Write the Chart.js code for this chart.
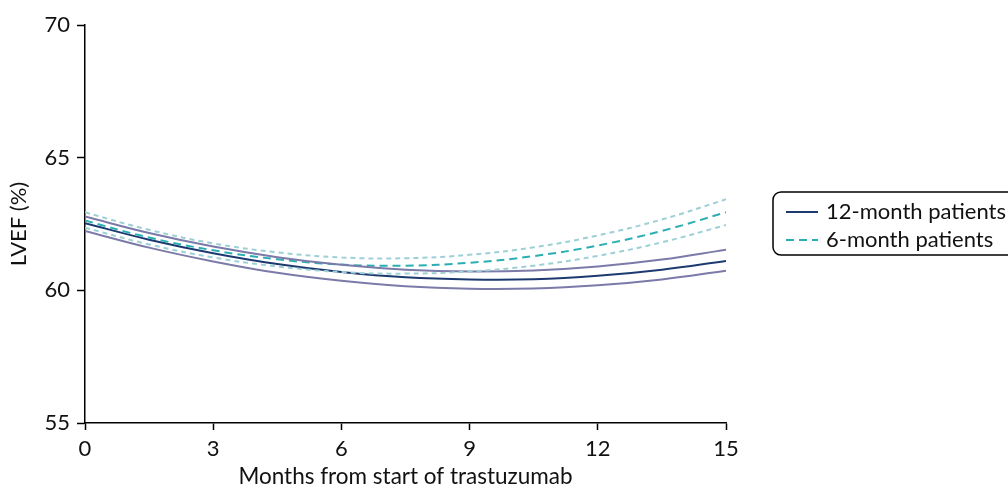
<!DOCTYPE html>
<html>
<head>
<meta charset="utf-8">
<script src="https://cdn.jsdelivr.net/npm/chart.js@4"></script>
<style>
  html, body { margin: 0; padding: 0; background: #fff; }
  #wrap { width: 1008px; height: 488px; }
</style>
</head>
<body>
<div id="wrap"><canvas id="myChart"></canvas></div>
<script>
// months from start of trastuzumab
const months = [0, 1.5, 3, 4.5, 6, 7.5, 9, 10.5, 12, 13.5, 15];

// 12-month patients (fit + 95% band)
const lvef12 = [62.53, 61.91, 61.40, 60.99, 60.69, 60.49, 60.41, 60.42, 60.55, 60.78, 61.11];
const lvef12Upper = [62.78, 62.16, 61.65, 61.25, 60.96, 60.78, 60.71, 60.75, 60.90, 61.16, 61.53];
const lvef12Lower = [62.24, 61.61, 61.09, 60.66, 60.36, 60.15, 60.06, 60.07, 60.19, 60.41, 60.74];

// 6-month patients (fit + 95% band)
const lvef6 = [62.63, 61.99, 61.51, 61.17, 60.97, 60.93, 61.04, 61.29, 61.69, 62.24, 62.94];
const lvef6Upper = [62.94, 62.28, 61.77, 61.43, 61.24, 61.21, 61.34, 61.62, 62.07, 62.67, 63.43];
const lvef6Lower = [62.36, 61.73, 61.24, 60.90, 60.69, 60.63, 60.71, 60.93, 61.30, 61.81, 62.46];

const xTicks = [0, 3, 6, 9, 12, 15];
const yTicks = [55, 60, 65, 70];
const legendOrder = ['12-month patients', '6-month patients'];

const NAVY = '#1d3a70';
const GREY = '#7b7aa8';
const TEAL = '#2aaeb2';
const LIGHT_TEAL = '#9dd0d6';

const pts = arr => arr.map((v, i) => ({ x: months[i], y: v }));

function line(label, arr, color, dash) {
    return {
        label: label,
        data: pts(arr),
        borderColor: color,
        borderWidth: 2,
        borderDash: dash,
        pointRadius: 0,
        tension: 0.4,
        fill: false
    };
}

// legend with a rounded box, like the original figure
const boxLegend = {
    id: 'boxLegend',
    afterDraw(chart) {
        const c = chart.ctx;
        const items = legendOrder.map(l => chart.data.datasets.find(d => d.label === l));
        const x = 773, y = 192, w = 260, h = 63;
        c.save();
        c.strokeStyle = '#000';
        c.lineWidth = 1.5;
        c.beginPath();
        c.roundRect(x, y, w, h, 8);
        c.stroke();
        c.font = '22px Lato';
        c.textBaseline = 'middle';
        items.forEach((d, i) => {
            const ly = y + 20 + i * 28;
            c.strokeStyle = d.borderColor;
            c.lineWidth = 2;
            c.setLineDash(d.borderDash || []);
            c.beginPath();
            c.moveTo(x + 13, ly);
            c.lineTo(x + 45, ly);
            c.stroke();
            c.setLineDash([]);
            c.fillStyle = '#111';
            c.fillText(d.label, x + 53, ly);
        });
        c.restore();
    }
};

Chart.defaults.font.family = "Lato, 'Open Sans', sans-serif";
Chart.defaults.font.size = 22;
Chart.defaults.color = '#111';

const ctx = document.getElementById('myChart');
new Chart(ctx, {
    type: 'line',
    data: {
        datasets: [
            line('95% CI upper (6)', lvef6Upper, LIGHT_TEAL, [5, 4]),
            line('95% CI lower (6)', lvef6Lower, LIGHT_TEAL, [5, 4]),
            line('95% CI upper (12)', lvef12Upper, GREY, []),
            line('95% CI lower (12)', lvef12Lower, GREY, []),
            line('6-month patients', lvef6, TEAL, [8, 5]),
            line('12-month patients', lvef12, NAVY, [])
        ]
    },
    options: {
        responsive: true,
        maintainAspectRatio: false,
        animation: false,
        layout: {
            padding: { top: 25, right: 282, left: 0, bottom: 0 }
        },
        scales: {
            x: {
                type: 'linear',
                min: 0,
                max: 15,
                afterBuildTicks: s => { s.ticks = xTicks.map(v => ({ value: v })); },
                afterFit: s => { s.height = 65; },
                grid: { drawOnChartArea: false, color: '#000', tickLength: 7, tickWidth: 1.5 },
                border: { color: '#000', width: 1.5 },
                ticks: { padding: 6, maxRotation: 0 },
                title: {
                    display: true,
                    text: 'Months from start of trastuzumab',
                    font: { size: 22.5, lineHeight: 1 },
                    padding: { top: 0, bottom: 0 }
                }
            },
            y: {
                min: 55,
                max: 70,
                afterBuildTicks: s => { s.ticks = yTicks.map(v => ({ value: v })); },
                afterFit: s => { s.width = 85; },
                grid: { drawOnChartArea: false, color: '#000', tickLength: 8, tickWidth: 1.5 },
                border: { color: '#000', width: 1.5 },
                ticks: { padding: 7 },
                title: {
                    display: true,
                    text: 'LVEF (%)',
                    font: { size: 22, lineHeight: 1 },
                    padding: { top: 8, bottom: 0 }
                }
            }
        },
        plugins: {
            legend: { display: false },
            tooltip: { enabled: false }
        }
    },
    plugins: [boxLegend]
});
</script>
</body>
</html>
